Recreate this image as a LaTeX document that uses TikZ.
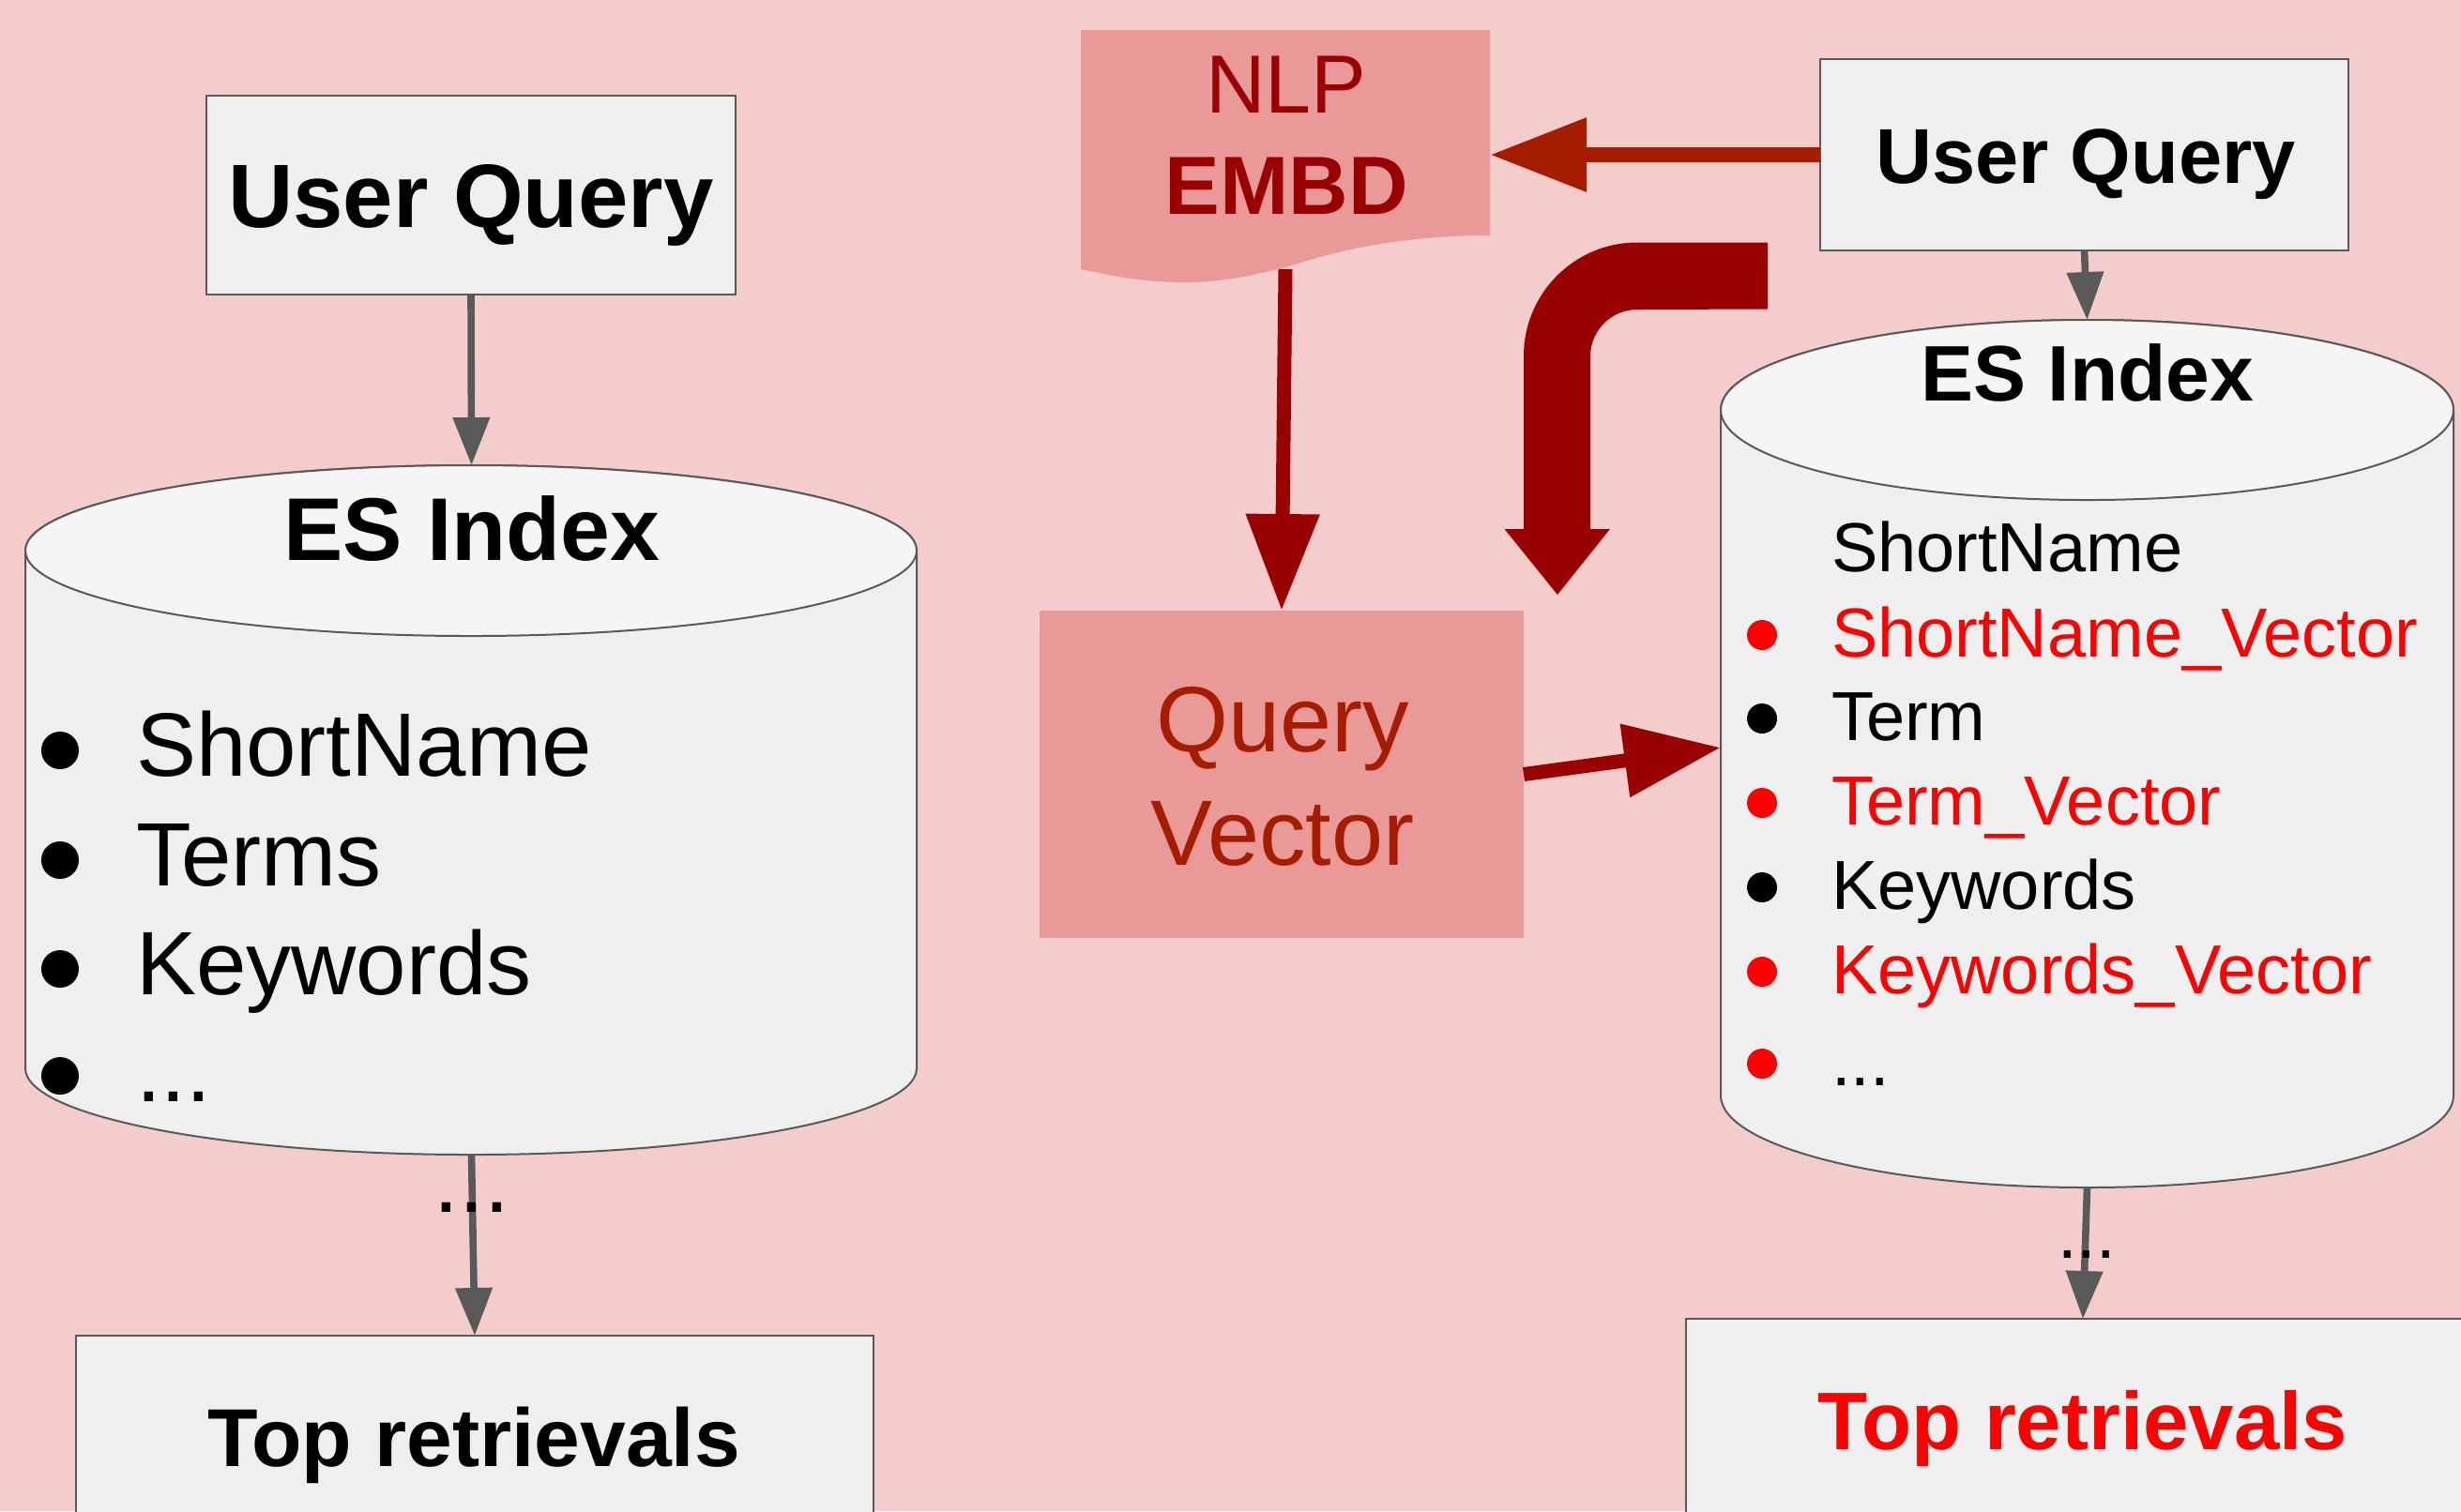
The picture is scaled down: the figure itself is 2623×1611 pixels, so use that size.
\documentclass[tikz,border=0pt]{standalone}
\usepackage{fontspec}
\setmainfont{Liberation Sans}
\usetikzlibrary{arrows.meta}

\definecolor{bgpink}{HTML}{F4CCCC}
\definecolor{boxgray}{HTML}{EFEFEF}
\definecolor{capgray}{HTML}{F5F5F5}
\definecolor{edgegray}{HTML}{595959}
\definecolor{salmon}{HTML}{EA9999}
\definecolor{darkred}{HTML}{990000}
\definecolor{berry}{HTML}{A61C00}
\definecolor{brightred}{HTML}{FF0000}

\newcommand\setfs[1]{\fontsize{#1}{#1}\selectfont}

\begin{document}
\begin{tikzpicture}[x=0.25pt,y=-0.25pt,
  txt/.style={inner sep=0pt,outer sep=0pt},
  box/.style={draw=edgegray,line width=0.5pt,fill=boxgray,inner sep=0pt,outer sep=0pt},
  pinkbox/.style={fill=salmon,inner sep=0pt,outer sep=0pt},
  ghost/.style={inner sep=0pt,outer sep=0pt},
  grayarrow/.style={draw=edgegray,line width=1.9pt,-{Triangle[length=12.75pt,width=9.5pt]}},
  redarrow/.style={draw=darkred,line width=3.75pt,-{Triangle[length=25.75pt,width=18.75pt]}},
  cylside/.style={draw=edgegray,line width=0.5pt,fill=boxgray},
  cylcap/.style={draw=edgegray,line width=0.5pt,fill=capgray},
]
\useasboundingbox (0,0) rectangle (2623,1611);
\clip (0,0) rectangle (2623,1611);
\fill[bgpink] (0,0) rectangle (2623,1611);

% ---------- left pipeline: keyword search ----------
\node[box,minimum width=141pt,minimum height=53pt] (uqL) at (502,208) {};
\node[txt,anchor=base] (uqLtext) at (502,242) {\setfs{24}\bfseries User Query};

% index cylinder
\path[cylside] (27,587) -- (27,1139)
  arc[start angle=180,end angle=360,x radius=118.75pt,y radius=23pt]
  -- (977,587)
  arc[start angle=0,end angle=180,x radius=118.75pt,y radius=22.75pt] -- cycle;
\path[cylcap] (502,587) ellipse[x radius=118.75pt,y radius=22.75pt];
\coordinate (cylLtop) at (502.5,496);
\coordinate (cylLbot) at (502.5,1231);
\node[txt,anchor=base] (esL) at (503,597) {\setfs{23.75}\bfseries ES Index};

\fill (64,800) circle[radius=5pt];
\fill (64,917) circle[radius=5pt];
\fill (64,1033) circle[radius=5pt];
\fill (64,1147) circle[radius=5pt];
\node[txt,anchor=base west] (l1) at (145,827) {\setfs{24}ShortName};
\node[txt,anchor=base west] (l2) at (145,944) {\setfs{24}Terms};
\node[txt,anchor=base west] (l3) at (145,1060) {\setfs{24}Keywords};
\node[txt,anchor=base west] (l4) at (145,1174) {\setfs{24}...};

\node[box,minimum width=212.5pt,minimum height=75pt] (topL) at (506,1574) {};
\node[txt,anchor=base] (topLtext) at (505,1563) {\setfs{21.9}\bfseries Top retrievals};

\draw[grayarrow] (uqL.south) -- (cylLtop);
\draw[grayarrow] (cylLbot) -- (topL.north);
\node[txt,anchor=base] (dotsL) at (503,1292) {\setfs{24}...};

% ---------- embedding branch ----------
\fill[salmon] (1152,32) -- (1588,32) -- (1588,251)
  .. controls (1520,251) and (1450,260) .. (1390,279)
  .. controls (1340,294) and (1300,301) .. (1262,301)
  .. controls (1220,301) and (1185,294) .. (1152,287) -- cycle;
\node[ghost,minimum width=109pt,minimum height=63.75pt] (nlp) at (1370,159.5) {};
\node[txt,anchor=base,text=darkred] (nlpA) at (1371,120) {\setfs{22}NLP};
\node[txt,anchor=base,text=darkred] (nlpB) at (1371,228) {\setfs{22}\bfseries EMBD};

\node[pinkbox,minimum width=129pt,minimum height=87.25pt] (qv) at (1366,825.5) {};
\node[txt,anchor=base,text=berry] (qvA) at (1367,801) {\setfs{24.75}Query};
\node[txt,anchor=base,text=berry] (qvB) at (1367,922) {\setfs{24.75}Vector};

% bent block arrow
\fill[darkred] (1884,258.5) -- (1745,258.5)
  arc[start angle=90,end angle=180,radius=30.25pt]
  -- (1624,564) -- (1603.5,564) -- (1660,634) -- (1716,564) -- (1695,564)
  -- (1695,380)
  arc[start angle=180,end angle=90,radius=12.5pt]
  -- (1884,329.5) -- cycle;

% ---------- right pipeline: hybrid search ----------
\node[box,minimum width=140.75pt,minimum height=51pt] (uqR) at (2221.5,165) {};
\node[txt,anchor=base] (uqRtext) at (2223,195) {\setfs{20.75}\bfseries User Query};

\path[cylside] (1834,437) -- (1834,1168)
  arc[start angle=180,end angle=360,x radius=97.625pt,y radius=24.5pt]
  -- (2615,437)
  arc[start angle=0,end angle=180,x radius=97.625pt,y radius=24pt] -- cycle;
\path[cylcap] (2224.5,437) ellipse[x radius=97.625pt,y radius=24pt];
\coordinate (cylRtop) at (2224.5,341);
\coordinate (cylRbot) at (2224.5,1266);
\coordinate (cylRside) at (1834,797);
\node[txt,anchor=base] (esR) at (2225,427) {\setfs{21}\bfseries ES Index};

\fill[brightred] (1878,677) circle[radius=4pt];
\fill (1878,766) circle[radius=4pt];
\fill[brightred] (1878,856) circle[radius=4pt];
\fill (1878,946) circle[radius=4pt];
\fill[brightred] (1878,1036) circle[radius=4pt];
\fill[brightred] (1878,1134) circle[radius=4pt];
\node[txt,anchor=base west] (r1) at (1952,609) {\setfs{18.5}ShortName};
\node[txt,anchor=base west,text=brightred] (r2) at (1952,700) {\setfs{18.5}ShortName\_Vector};
\node[txt,anchor=base west] (r3) at (1952,789) {\setfs{18.5}Term};
\node[txt,anchor=base west,text=brightred] (r4) at (1952,879) {\setfs{18.5}Term\_Vector};
\node[txt,anchor=base west] (r5) at (1952,969) {\setfs{18.5}Keywords};
\node[txt,anchor=base west,text=brightred] (r6) at (1952,1059) {\setfs{18.5}Keywords\_Vector};
\node[txt,anchor=base west] (r7) at (1952,1157) {\setfs{18.5}...};

\node[box,minimum width=211.5pt,minimum height=75pt] (topR) at (2220,1556) {};
\node[txt,anchor=base,text=brightred] (topRtext) at (2220,1545) {\setfs{21.75}\bfseries Top retrievals};

\draw[grayarrow] (uqR.south) -- (cylRtop);
\draw[grayarrow] (cylRbot) -- (topR.north);
\node[txt,anchor=base] (dotsR) at (2224,1341) {\setfs{18.5}...};

% connectors of the embedding branch
\draw[redarrow,draw=berry,line width=4pt] (uqR.west) -- (uqR.west -| nlp.east);
\draw[redarrow] (nlp.south) -- (qv.north);
\draw[redarrow] (qv.east) -- (cylRside);
\end{tikzpicture}
\end{document}
